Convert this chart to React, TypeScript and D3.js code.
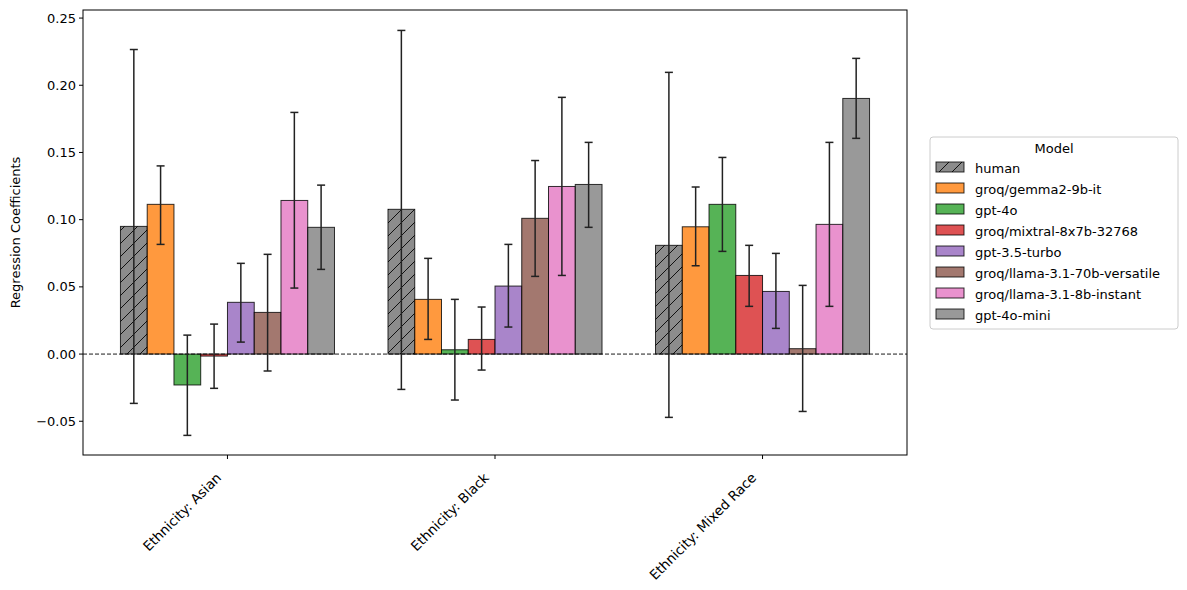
import React from "react";
import * as d3 from "d3";

// categories and models
const categories = ["Ethnicity: Asian", "Ethnicity: Black", "Ethnicity: Mixed Race"];
const models = [
  "human",
  "groq/gemma2-9b-it",
  "gpt-4o",
  "groq/mixtral-8x7b-32768",
  "gpt-3.5-turbo",
  "groq/llama-3.1-70b-versatile",
  "groq/llama-3.1-8b-instant",
  "gpt-4o-mini",
];
const colors = ["#808080", "#ff7f0e", "#2ca02c", "#d62728", "#9467bd", "#8c564b", "#e377c2", "#7f7f7f"];

// coefficient per model, one entry per category
const coef = [
  [0.095, 0.1077, 0.0809],
  [0.1114, 0.0407, 0.0947],
  [-0.023, 0.0032, 0.1114],
  [-0.0015, 0.0109, 0.0585],
  [0.0385, 0.0506, 0.0466],
  [0.031, 0.101, 0.004],
  [0.1143, 0.1247, 0.0965],
  [0.0943, 0.1262, 0.1902],
];
const ciLow = [
  [-0.0367, -0.0263, -0.0471],
  [0.0816, 0.0109, 0.0657],
  [-0.0605, -0.0342, 0.0764],
  [-0.0255, -0.0119, 0.0355],
  [0.0089, 0.0201, 0.0191],
  [-0.0126, 0.0578, -0.0427],
  [0.0491, 0.0585, 0.0355],
  [0.063, 0.0943, 0.1605],
];
const ciHigh = [
  [0.2266, 0.2408, 0.2096],
  [0.140, 0.0712, 0.1243],
  [0.0141, 0.0407, 0.1463],
  [0.0223, 0.035, 0.0809],
  [0.0675, 0.0816, 0.0749],
  [0.0742, 0.144, 0.0511],
  [0.1798, 0.191, 0.1575],
  [0.1257, 0.1575, 0.22],
];
const yTicks = [-0.05, 0, 0.05, 0.1, 0.15, 0.2, 0.25];

const W = 1187;
const H = 590;
const margin = { left: 83, right: 280, top: 10, bottom: 135 };
const barW = 0.1;
const font = "DejaVu Sans, sans-serif";

export default function App() {
  const x = d3.scaleLinear().domain([-0.54, 2.54]).range([margin.left, W - margin.right]);
  const y = d3.scaleLinear().domain([-0.0751, 0.256]).range([H - margin.bottom, margin.top]);
  const bw = x(barW) - x(0);
  const y0 = y(0);

  return (
    <div style={{ position: "absolute", left: 0, top: 0 }}>
      <svg width={W} height={H} style={{ display: "block", background: "#fff", fontFamily: font }}>
        <defs>
          <pattern id="hatch" patternUnits="userSpaceOnUse" width="13" height="13">
            <path d="M0,13 L13,0 M-3,3 L3,-3 M10,16 L16,10" stroke="#111" strokeWidth="1" />
          </pattern>
        </defs>

        {models.map((m, i) =>
          categories.map((c, j) => {
            const cx = x(j + (i - 3.5) * barW);
            const v = coef[i][j];
            const top = Math.min(y(v), y0);
            const h = Math.abs(y(v) - y0);
            return (
              <g key={m + c}>
                <rect x={cx - bw / 2} y={top} width={bw} height={h} fill={colors[i]} fillOpacity={i === 0 ? 0.9 : 0.8} />
                {i === 0 && <rect x={cx - bw / 2} y={top} width={bw} height={h} fill="url(#hatch)" />}
                <rect x={cx - bw / 2} y={top} width={bw} height={h} fill="none" stroke="#000" strokeOpacity={0.8} strokeWidth={1} />
              </g>
            );
          })
        )}

        <line x1={margin.left} x2={W - margin.right} y1={y0} y2={y0} stroke="#000" strokeWidth={0.9} strokeDasharray="4,2" />

        {models.map((m, i) =>
          categories.map((c, j) => {
            const cx = x(j + (i - 3.5) * barW);
            const lo = y(ciLow[i][j]);
            const hi = y(ciHigh[i][j]);
            return (
              <g key={"e" + m + c} stroke="#222" strokeWidth={1.5}>
                <line x1={cx} x2={cx} y1={lo} y2={hi} />
                <line x1={cx - 4} x2={cx + 4} y1={lo} y2={lo} />
                <line x1={cx - 4} x2={cx + 4} y1={hi} y2={hi} />
              </g>
            );
          })
        )}

        <rect x={margin.left} y={margin.top} width={W - margin.right - margin.left} height={H - margin.bottom - margin.top} fill="none" stroke="#000" strokeWidth={1} />

        {yTicks.map((t) => (
          <g key={t}>
            <line x1={margin.left - 4} x2={margin.left} y1={y(t)} y2={y(t)} stroke="#000" />
            <text x={margin.left - 7} y={y(t)} dy="0.35em" textAnchor="end" fontSize={13}>
              {d3.format(".2f")(t).replace("-", "\u2212")}
            </text>
          </g>
        ))}

        {categories.map((c, j) => (
          <g key={c}>
            <line x1={x(j)} x2={x(j)} y1={H - margin.bottom} y2={H - margin.bottom + 4} stroke="#000" />
            <text
              transform={`translate(${x(j) - 12},${H - margin.bottom + 17}) rotate(-45)`}
              textAnchor="end"
              dy="0.7em"
              fontSize={13.5}
            >
              {c}
            </text>
          </g>
        ))}

        <text transform={`translate(20,${(margin.top + H - margin.bottom) / 2}) rotate(-90)`} textAnchor="middle" fontSize={13}>
          Regression Coefficients
        </text>

        <g transform="translate(930,137)">
          <rect x={0} y={0} width={248} height={192} rx={3} fill="#fff" stroke="#ccc" />
          <text x={124} y={16} textAnchor="middle" fontSize={13}>Model</text>
          {models.map((m, i) => (
            <g key={"l" + m} transform={`translate(0,${31 + i * 21})`}>
              <rect x={6} y={-6} width={28} height={10} fill={colors[i]} fillOpacity={i === 0 ? 0.9 : 0.8} />
              {i === 0 && <rect x={6} y={-6} width={28} height={10} fill="url(#hatch)" />}
              <rect x={6} y={-6} width={28} height={10} fill="none" stroke="#000" strokeOpacity={0.8} />
              <text x={45} y={0} dy="0.35em" fontSize={13}>{m}</text>
            </g>
          ))}
        </g>
      </svg>
    </div>
  );
}
